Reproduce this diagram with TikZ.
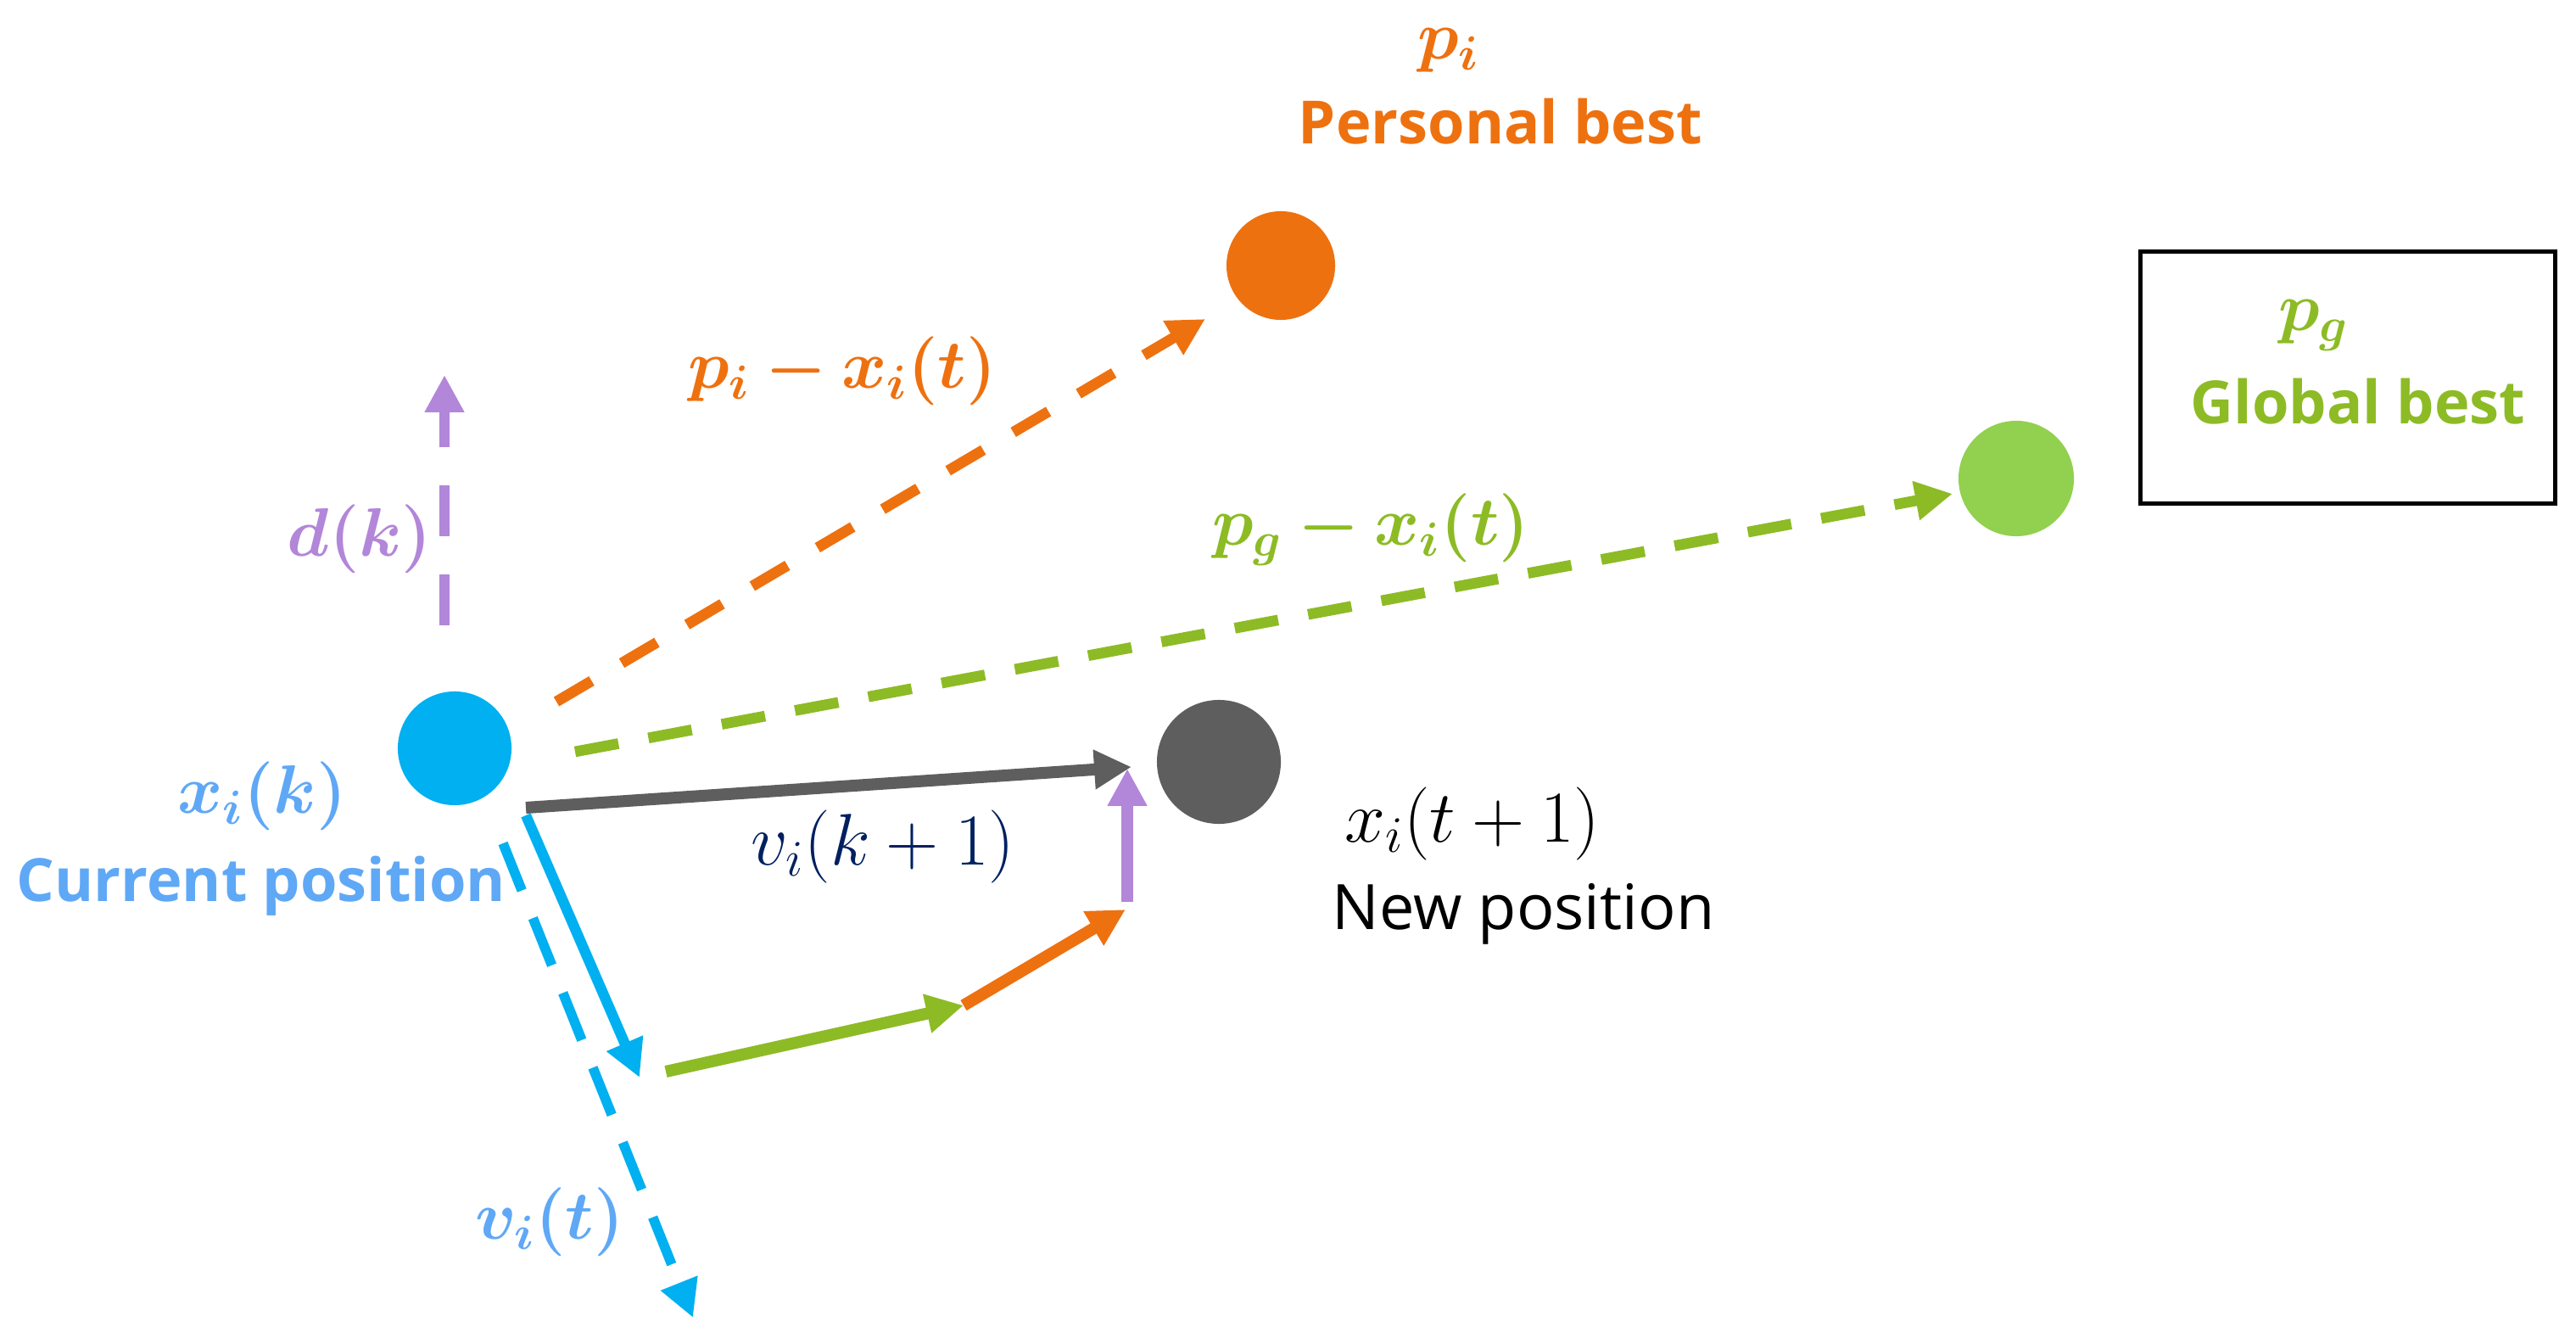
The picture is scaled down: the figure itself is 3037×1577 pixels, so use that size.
\documentclass[tikz,border=0pt]{standalone}
\usepackage{fix-cm}
\usepackage{amsmath,bm}
\usepackage[no-math]{fontspec}
\newfontfamily\labelfont{Open Sans}
\usetikzlibrary{arrows.meta}
\definecolor{cblue}{HTML}{00B0F0}
\definecolor{lblue}{HTML}{5FA8F6}
\definecolor{corange}{HTML}{EE7110}
\definecolor{cgreen}{HTML}{92D050}
\definecolor{dgreen}{HTML}{8DBB25}
\definecolor{cgray}{HTML}{5E5E5E}
\definecolor{cpurple}{HTML}{B286D9}
\definecolor{cnavy}{HTML}{002060}
\tikzset{
  dot/.style={circle, inner sep=0pt, minimum size=#1},
  tip/.style={-{Triangle[length=12.5pt,width=12.5pt]}},
  vec/.style={line width=4pt, tip},
  dvec/.style={line width=3.6pt, tip},
  mathlbl/.style={inner sep=0pt, anchor=base, font=\fontsize{23}{27}\selectfont},
  rmathlbl/.style={inner sep=0pt, anchor=base, font=\fontsize{24.5}{29}\selectfont},
  boldlbl/.style={inner sep=0pt, anchor=base, font=\labelfont\bfseries\fontsize{20}{24}\selectfont},
  reglbl/.style={inner sep=0pt, anchor=base, font=\labelfont\fontsize{21}{25}\selectfont},
}
\begin{document}
\begin{tikzpicture}[x=0.01cm,y=-0.01cm]
\useasboundingbox (0,0) rectangle (3037,1577);
% circles
\node[dot=1.34cm, fill=cblue] (cur) at (536,882) {};
\node[dot=1.28cm, fill=corange] (pers) at (1510,313) {};
\node[dot=1.36cm, fill=cgreen] (glob) at (2377,564) {};
\node[dot=1.46cm, fill=cgray] (new) at (1437,898) {};
\node[draw=black, line width=1.5pt, minimum width=4.89cm, minimum height=2.97cm, inner sep=0pt] (gbox) at (2768,445) {};
% end points
\coordinate (oS) at (656,827);   \coordinate (oE) at (1421,376);
\coordinate (gS) at (678,886);   \coordinate (gE) at (2302,582);
\coordinate (dS) at (524,737);   \coordinate (dE) at (524,442);
\coordinate (bdS) at (593,994);  \coordinate (bdE) at (817,1553);
\coordinate (kS) at (620,952);   \coordinate (kE) at (1334,904);
\coordinate (bS) at (620,961);   \coordinate (bE) at (754,1270);
\coordinate (sgS) at (785,1263); \coordinate (sgE) at (1136,1185);
\coordinate (soE) at (1327,1072);
\coordinate (spS) at (1329,1063); \coordinate (spE) at (1329,906);
% dashed arrows
\draw[dvec, corange, dash pattern=on 13.7pt off 11.7pt] (oS) -- (oE);
\draw[dvec, dgreen, dash pattern=on 14.8pt off 10.2pt] (gS) -- (gE);
\draw[dvec, cpurple, dash pattern=on 17pt off 12.8pt] (dS) -- (dE);
\draw[line width=3.3pt, tip, cblue, dash pattern=on 17pt off 10pt] (bdS) -- (bdE);
% solid arrows
\draw[vec, cgray] (kS) -- (kE);
\draw[line width=3.5pt, tip, cblue] (bS) -- (bE);
\draw[vec, dgreen] (sgS) -- (sgE);
\draw[vec, corange] (sgE) -- (soE);
\draw[vec, cpurple] (spS) -- (spE);
% labels
\node[mathlbl, text=corange] (lpi) at (1708,70) {$\bm{p_i}$};
\node[boldlbl, text=corange] (lpers) at (1769,170) {Personal best};
\node[mathlbl, text=dgreen] (lpg) at (2728,390) {$\bm{p_g}$};
\node[boldlbl, text=dgreen] (lglob) at (2780,500) {Global best};
\node[mathlbl, text=corange] (lpix) at (993,458) {$\bm{p_i - x_i(t)}$};
\node[mathlbl, text=dgreen] (lpgx) at (1616,643) {$\bm{p_g - x_i(t)}$};
\node[mathlbl, text=cpurple] (ldk) at (424,656) {$\bm{d(k)}$};
\node[mathlbl, text=lblue] (lxk) at (309,959) {$\bm{x_i(k)}$};
\node[boldlbl, text=lblue] (lcur) at (308,1063) {Current position};
\node[rmathlbl, text=cnavy] (lvk) at (1041,1020) {$v_i(k+1)$};
\node[rmathlbl, text=black] (lxt) at (1736,992) {$x_i(t+1)$};
\node[reglbl, text=black] (lnew) at (1796,1095) {New position};
\node[mathlbl, text=lblue] (lvt) at (648,1460) {$\bm{v_i(t)}$};
\end{tikzpicture}
\end{document}
